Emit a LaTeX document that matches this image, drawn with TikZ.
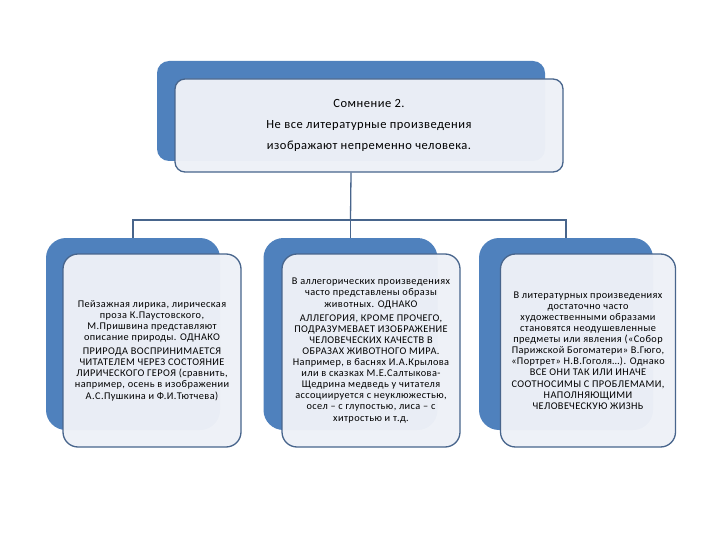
\documentclass[tikz,border=0pt]{standalone}
\usepackage{fontspec}
\setmainfont{Carlito}[LetterSpace=4]
\usepackage{tikz}
\definecolor{backblue}{RGB}{79,129,189}
\definecolor{edgeblue}{RGB}{72,101,140}
\definecolor{paleblue}{RGB}{238,241,247}

\begin{document}
\begin{tikzpicture}[x=1pt,y=1pt]
    \tikzstyle{every node}+=[inner sep=0pt]
    \tikzstyle{back}=[fill=backblue, rounded corners=20pt, minimum width=174pt, minimum height=192pt]
    \tikzstyle{front}=[draw=edgeblue, line width=1.3pt, fill=paleblue, fill opacity=0.97, text opacity=1, rounded corners=15pt, minimum width=178pt, minimum height=193pt, align=center, font=\fontsize{10.3}{11.1}\selectfont]
    \useasboundingbox [fill=white] (0,0) rectangle (720,-540);
    % top block
    \node [back, minimum width=388pt, minimum height=100pt, rounded corners=12pt] (topback) at (351,-111) {};
    \node [front, minimum width=388pt, minimum height=93pt, rounded corners=10pt, font=\fontsize{12.5}{21}\selectfont] (topfront) at (369,-125.5) {Сомнение 2.\\Не все литературные произведения\\изображают непременно человека.};
    % lower blocks
    \node [back] (leftback) at (133,-334) {};
    \node [front] (leftfront) at (152,-350.5) {Пейзажная лирика, лирическая\\проза К.Паустовского,\\М.Пришвина представляют\\описание природы. ОДНАКО\\[3pt]ПРИРОДА ВОСПРИНИМАЕТСЯ\\ЧИТАТЕЛЕМ ЧЕРЕЗ СОСТОЯНИЕ\\ЛИРИЧЕСКОГО ГЕРОЯ (сравнить,\\например, осень в изображении\\А.С.Пушкина и Ф.И.Тютчева)};
    \node [back] (midback) at (350.5,-334) {};
    \node [front] (midfront) at (371,-350.5) {В аллегорических произведениях\\часто представлены образы\\животных. ОДНАКО\\[3pt]АЛЛЕГОРИЯ, КРОМЕ ПРОЧЕГО,\\ПОДРАЗУМЕВАЕТ ИЗОБРАЖЕНИЕ\\ЧЕЛОВЕЧЕСКИХ КАЧЕСТВ В\\ОБРАЗАХ ЖИВОТНОГО МИРА.\\Например, в баснях И.А.Крылова\\или в сказках М.Е.Салтыкова-\\Щедрина медведь у читателя\\ассоциируется с неуклюжестью,\\осел – с глупостью, лиса – с\\хитростью и т.д.};
    \node [back] (rightback) at (566,-334) {};
    \node [front, minimum width=175pt] (rightfront) at (588,-350.5) {В литературных произведениях\\достаточно часто\\художественными образами\\становятся неодушевленные\\предметы или явления («Собор\\Парижской Богоматери» В.Гюго,\\«Портрет» Н.В.Гоголя…). Однако\\ВСЕ ОНИ ТАК ИЛИ ИНАЧЕ\\СООТНОСИМЫ С ПРОБЛЕМАМИ,\\НАПОЛНЯЮЩИМИ\\ЧЕЛОВЕЧЕСКУЮ ЖИЗНЬ};
    % connectors
    \coordinate (fork) at (350.5,-220);
    \draw [edgeblue, line width=1.3pt] (topfront.south -| topback.south) -- (fork);
    \draw [edgeblue, line width=1.3pt] (leftback.north) |- (fork) -| (rightback.north);
    \draw [edgeblue, line width=1.3pt] (fork) -- (midback.north);
\end{tikzpicture}
\end{document}
